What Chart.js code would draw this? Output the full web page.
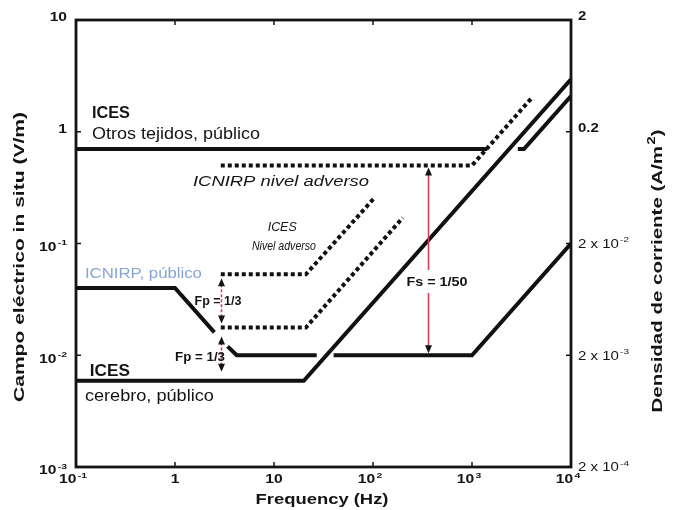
<!DOCTYPE html>
<html lang="es">
<head>
<meta charset="UTF-8">
<script src="https://cdn.jsdelivr.net/npm/chart.js"></script>
<title>campo in situ</title>
<style>
  body { margin: 0; background: #fff; }
  #caja { width: 674px; height: 510px; }
</style>
</head>
<body>
<div id="caja"><canvas id="grafico"></canvas></div>
<script>
// ---- datos (frecuencia en Hz, campo en V/m) ----
const frecTicks = [0.1, 1, 10, 100, 1000, 10000];
const frecTickLabels = [['10', '-1'], ['1', ''], ['10', ''], ['10', '2'], ['10', '3'], ['10', '4']];
const campoTicks = [0.001, 0.01, 0.1, 1, 10];
const campoTickLabels = [['10', '-3'], ['10', '-2'], ['10', '-1'], ['1', ''], ['10', '']];
const densTicks = [0.0002, 0.002, 0.02, 0.2, 2];
const densTickLabels = [['2 x 10', '-4'], ['2 x 10', '-3'], ['2 x 10', '-2'], ['0.2', ''], ['2', '']];

// ICES otros tejidos, público
const icesOtrosFrec1 = [0.1, 1420];
const icesOtrosCampo1 = [0.7, 0.7];
const icesOtrosFrec2 = [2900, 3350, 10000];
const icesOtrosCampo2 = [0.7, 0.7, 2.09];

// ICES cerebro, público
const icesCerebroFrec = [0.1, 20, 10000];
const icesCerebroCampo = [0.0059, 0.0059, 2.95];

// ICNIRP, público
const icnirpFrecA = [0.1, 1, 2.5];
const icnirpCampoA = [0.04, 0.04, 0.016];
const icnirpFrecB = [3.4, 4.2, 27];
const icnirpCampoB = [0.012, 0.01, 0.01];
const icnirpFrecC = [40, 1000, 10000];
const icnirpCampoC = [0.01, 0.01, 0.1];

// niveles adversos (punteados)
const icnirpAdvFrec = [2.9, 1000, 4000];
const icnirpAdvCampo = [0.5, 0.5, 2.0];
const icesAdvAltoFrec = [2.9, 21, 105];
const icesAdvAltoCampo = [0.053, 0.053, 0.26];
const icesAdvBajoFrec = [2.9, 21, 200];
const icesAdvBajoCampo = [0.0177, 0.0177, 0.17];

// textos de la figura
const notas = [
  { t: 'ICES', f: 0.145, e: 1.44, peso: 'bold', tam: 16, largo: 38 },
  { t: 'Otros tejidos, público', f: 0.145, e: 0.935, tam: 16, largo: 168 },
  { t: 'ICNIRP nivel adverso', f: 1.52, e: 0.355, tam: 15, estilo: 'italic', largo: 176 },
  { t: 'ICES', f: 12.1, e: 0.138, tam: 12, estilo: 'italic', alin: 'center', largo: 29 },
  { t: 'Nivel adverso', f: 12.6, e: 0.093, tam: 12, estilo: 'italic', alin: 'center', largo: 64 },
  { t: 'ICNIRP, público', f: 0.123, e: 0.0533, tam: 15, color: '#86a4d4', largo: 117 },
  { t: 'ICES', f: 0.138, e: 0.00708, peso: 'bold', tam: 16, largo: 40 },
  { t: 'cerebro, público', f: 0.123, e: 0.00423, tam: 16, largo: 129 },
  { t: 'Fp = 1/3', f: 2.72, e: 0.030, peso: 'bold', tam: 12, alin: 'center', largo: 47 },
  { t: 'Fp = 1/3', f: 1.79, e: 0.00944, peso: 'bold', tam: 12, alin: 'center', largo: 50 },
  { t: 'Fs = 1/50', f: 443, e: 0.0444, peso: 'bold', tam: 12, alin: 'center', largo: 61 }
];

const flechas = [
  { f: 2.9, de: 0.053, a: 0.0177, borde: 4 },
  { f: 2.9, de: 0.0177, a: 0.0059, borde: 9 },
  { f: 360, de: 0.5, a: 0.01, borde: 2, hueco: 0.0444 }
];

const FUENTE = '"Liberation Sans", Arial, sans-serif';

function linea(frec, campo, punteada) {
  return {
    data: frec.map((f, i) => ({ x: f, y: campo[i] })),
    showLine: true,
    borderColor: '#111',
    borderWidth: punteada ? 4 : 4,
    borderDash: punteada ? [4, 3] : [],
    pointRadius: 0,
    tension: 0,
    yAxisID: 'y'
  };
}

// texto con partes en superíndice, estirado a lo largo si hace falta
function texto(ctx, partes, x, y, o) {
  const tam = o.tam || 12;
  const fBase = `${o.estilo || 'normal'} ${o.peso || 'normal'} ${tam}px ${FUENTE}`;
  const fSup = `${o.estilo || 'normal'} ${o.peso || 'normal'} ${Math.round(tam * 0.68)}px ${FUENTE}`;
  ctx.save();
  let w = 0;
  const anchos = partes.map(p => {
    ctx.font = p.sup ? fSup : fBase;
    const a = ctx.measureText(p.t).width + (p.sup ? 1 : 0);
    w += a;
    return a;
  });
  const sx = o.largo ? o.largo / w : (o.sx || 1);
  ctx.translate(x, y);
  if (o.rot) ctx.rotate(o.rot);
  ctx.scale(sx, 1);
  let x0 = o.alin === 'center' ? -w / 2 : o.alin === 'right' ? -w : 0;
  ctx.fillStyle = o.color || '#141414';
  ctx.textAlign = 'left';
  ctx.textBaseline = 'middle';
  partes.forEach((p, i) => {
    ctx.font = p.sup ? fSup : fBase;
    ctx.fillText(p.t, x0 + (p.sup ? 1 : 0), p.sup ? -tam * 0.38 : 0);
    x0 += anchos[i];
  });
  ctx.restore();
}

function etiqueta(par) {
  return par[1] ? [{ t: par[0] }, { t: par[1], sup: true }] : [{ t: par[0] }];
}

function punta(ctx, x, y, dir) {
  ctx.beginPath();
  ctx.moveTo(x, y);
  ctx.lineTo(x - 3.5, y - dir * 8);
  ctx.lineTo(x + 3.5, y - dir * 8);
  ctx.closePath();
  ctx.fill();
}

const marcoYTextos = {
  id: 'marcoYTextos',
  afterDatasetsDraw(chart) {
    const { ctx, chartArea: a, scales } = chart;
    const sx = scales.x, sy = scales.y, sy2 = scales.y2;
    ctx.save();

    // flechas
    flechas.forEach(fl => {
      const x = Math.round(sx.getPixelForValue(fl.f)) + 0.5;
      const y1 = sy.getPixelForValue(fl.de) + fl.borde;
      const y2 = sy.getPixelForValue(fl.a) - fl.borde;
      ctx.strokeStyle = '#d2405a';
      ctx.lineWidth = 1.6;
      ctx.setLineDash(fl.hueco ? [] : [3, 2]);
      ctx.beginPath();
      if (fl.hueco) {
        const yh = sy.getPixelForValue(fl.hueco);
        ctx.moveTo(x, y1 + 6); ctx.lineTo(x, yh - 13);
        ctx.moveTo(x, yh + 10); ctx.lineTo(x, y2 - 6);
      } else {
        ctx.moveTo(x, y1 + 6); ctx.lineTo(x, y2 - 6);
      }
      ctx.stroke();
      ctx.setLineDash([]);
      ctx.fillStyle = '#141414';
      punta(ctx, x, y1, -1);
      punta(ctx, x, y2, 1);
    });

    // marco
    ctx.strokeStyle = '#141414';
    ctx.lineWidth = 2.8;
    ctx.strokeRect(a.left, a.top, a.right - a.left, a.bottom - a.top);

    // marcas de escala hacia dentro
    ctx.lineWidth = 1.5;
    ctx.beginPath();
    frecTicks.forEach(v => {
      const x = sx.getPixelForValue(v);
      ctx.moveTo(x, a.bottom); ctx.lineTo(x, a.bottom - 5);
      ctx.moveTo(x, a.top); ctx.lineTo(x, a.top + 5);
    });
    campoTicks.forEach(v => {
      const y = sy.getPixelForValue(v);
      ctx.moveTo(a.left, y); ctx.lineTo(a.left + 5, y);
      ctx.moveTo(a.right, y); ctx.lineTo(a.right - 5, y);
    });
    ctx.stroke();

    // etiquetas de los ejes
    frecTicks.forEach((v, i) => {
      const par = frecTickLabels[i];
      texto(ctx, etiqueta(par), sx.getPixelForValue(v) - (par[1] ? 3 : 0), a.bottom + 13,
        { tam: 12, peso: 'bold', alin: 'center', sx: 1.3 });
    });
    campoTicks.forEach((v, i) => {
      const par = campoTickLabels[i];
      texto(ctx, etiqueta(par), a.left - 9, sy.getPixelForValue(v) + (par[1] ? 4 : -2),
        { tam: 12, peso: 'bold', alin: 'right', sx: 1.3 });
    });
    densTicks.forEach((v, i) => {
      const par = densTickLabels[i];
      texto(ctx, etiqueta(par), a.right + 7, sy2.getPixelForValue(v) + (par[1] ? 1 : -3),
        { tam: 12, peso: par[1] ? 'normal' : 'bold', alin: 'left', sx: 1.25 });
    });

    // títulos
    texto(ctx, [{ t: 'Frequency (Hz)' }], 322, 500, { tam: 14, peso: 'bold', alin: 'center', largo: 133 });
    texto(ctx, [{ t: 'Campo eléctrico in situ (V/m)' }], 20, 257,
      { tam: 14, peso: 'bold', alin: 'center', largo: 290, rot: -Math.PI / 2 });
    texto(ctx, [{ t: 'Densidad de corriente (A/m' }, { t: '2', sup: true }, { t: ')' }], 658, 271,
      { tam: 14, peso: 'bold', alin: 'center', largo: 283, rot: -Math.PI / 2 });

    // rótulos de las curvas
    notas.forEach(n => {
      texto(ctx, [{ t: n.t }], sx.getPixelForValue(n.f), sy.getPixelForValue(n.e), n);
    });
    ctx.restore();
  }
};

const ejeLog = (min, max, pos, ancho) => ({
  type: 'logarithmic',
  position: pos,
  min: min,
  max: max,
  grid: { display: false, drawTicks: false },
  border: { display: false },
  ticks: { display: false },
  afterFit(s) { if (pos === 'bottom') s.height = ancho; else s.width = ancho; }
});

new Chart(document.getElementById('grafico'), {
  type: 'scatter',
  data: {
    datasets: [
      linea(icesOtrosFrec1, icesOtrosCampo1),
      linea(icesOtrosFrec2, icesOtrosCampo2),
      linea(icesCerebroFrec, icesCerebroCampo),
      linea(icnirpFrecA, icnirpCampoA),
      linea(icnirpFrecB, icnirpCampoB),
      linea(icnirpFrecC, icnirpCampoC),
      linea(icnirpAdvFrec, icnirpAdvCampo, true),
      linea(icesAdvAltoFrec, icesAdvAltoCampo, true),
      linea(icesAdvBajoFrec, icesAdvBajoCampo, true)
    ]
  },
  options: {
    responsive: true,
    maintainAspectRatio: false,
    devicePixelRatio: 1,
    animation: false,
    layout: { padding: { top: 20, left: 0, right: 0, bottom: 0 } },
    plugins: { legend: { display: false }, tooltip: { enabled: false } },
    scales: {
      x: ejeLog(0.1, 10000, 'bottom', 43),
      y: ejeLog(0.001, 10, 'left', 76),
      y2: ejeLog(0.0002, 2, 'right', 103)
    }
  },
  plugins: [marcoYTextos]
});
</script>
</body>
</html>
